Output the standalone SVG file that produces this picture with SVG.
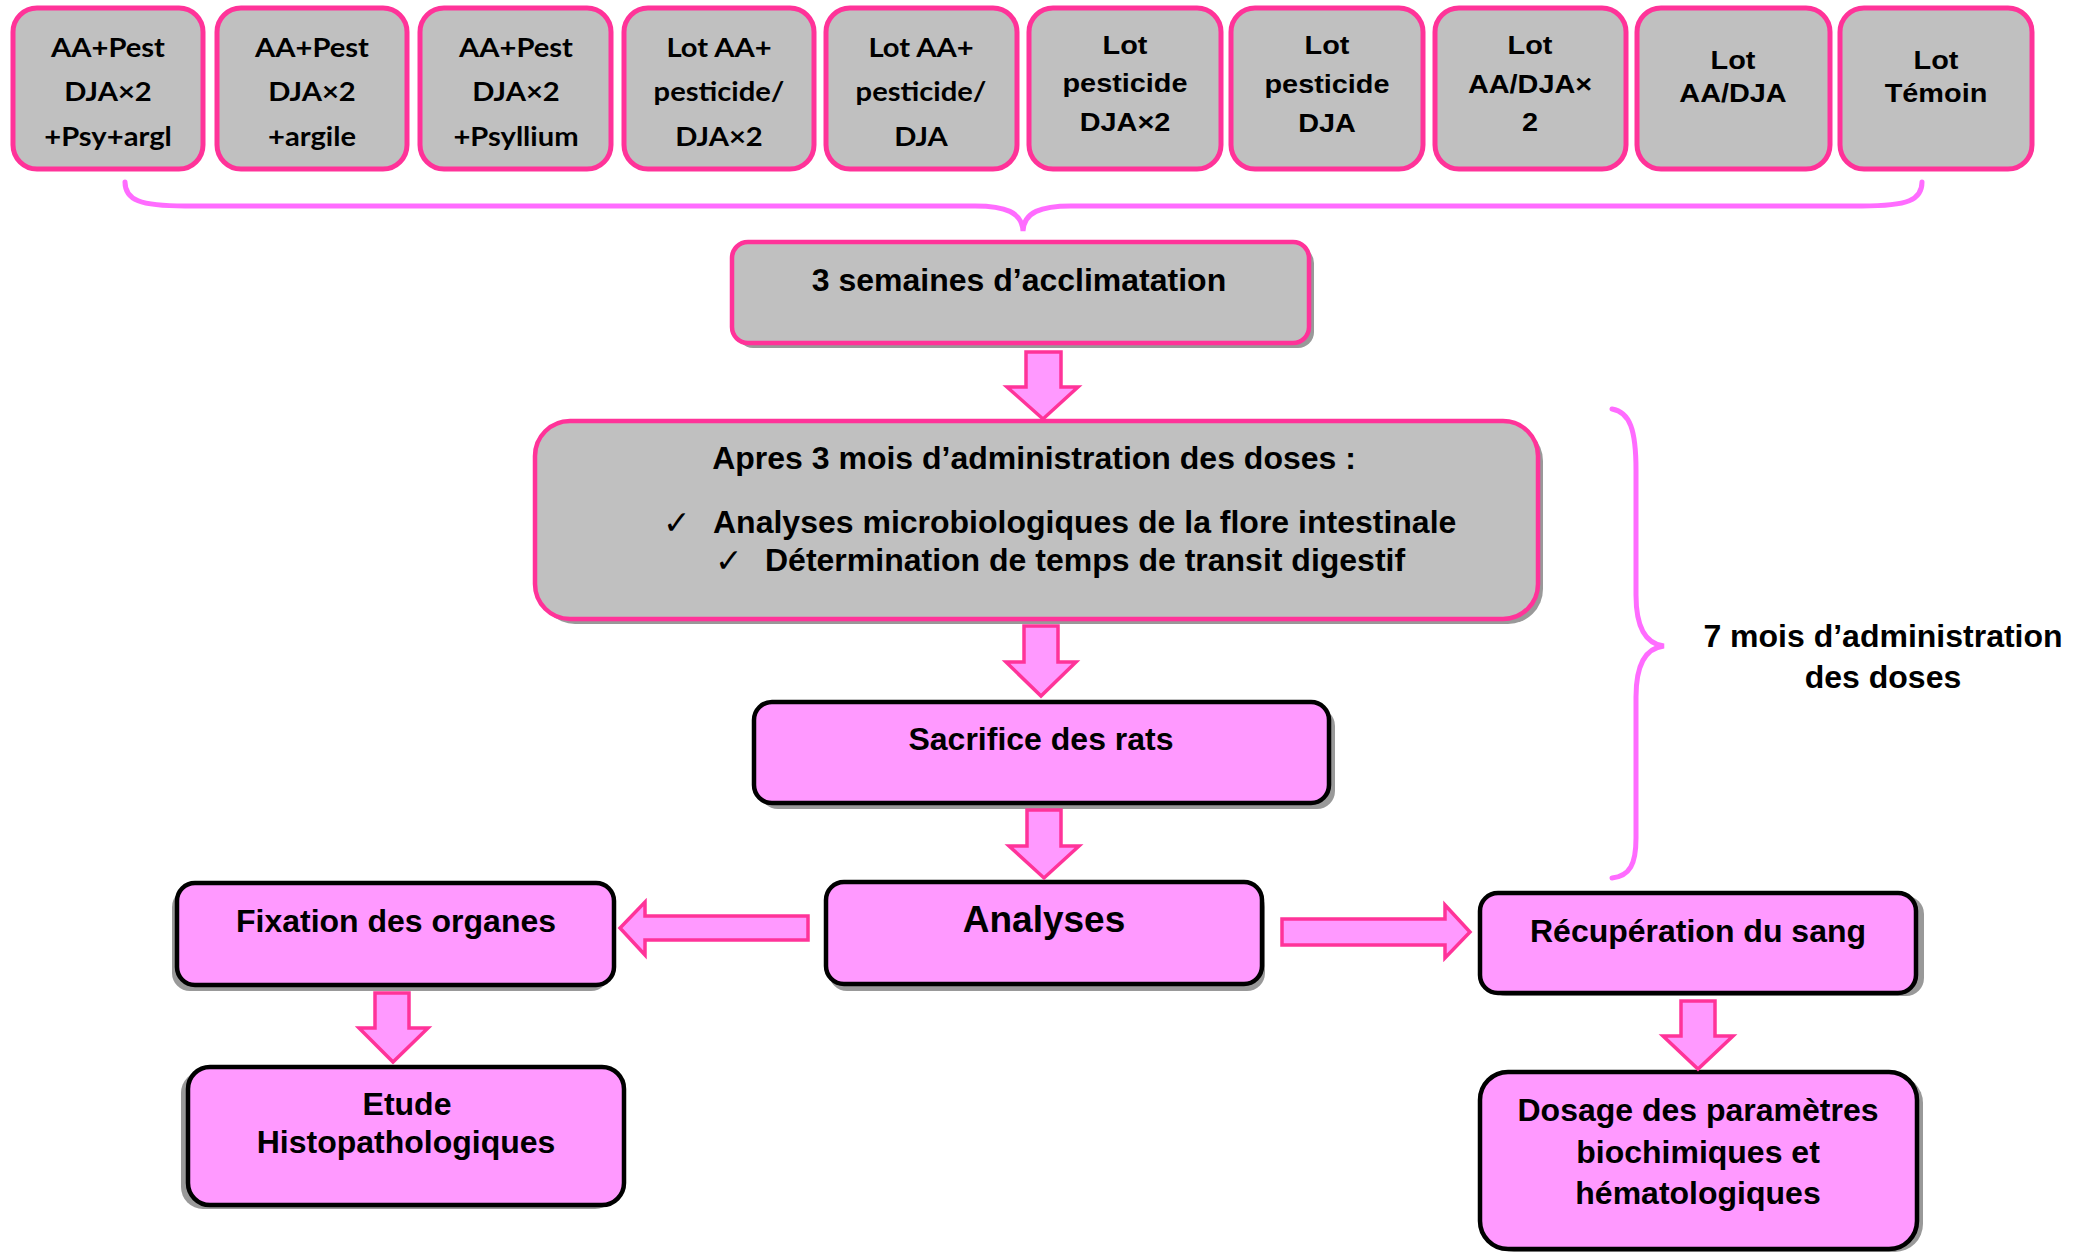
<svg xmlns="http://www.w3.org/2000/svg" width="2085" height="1254" viewBox="0 0 2085 1254">
<style>
.bg{fill:#ffffff}
.lot{fill:#C0C0C0;stroke:#FF3399;stroke-width:5}
.grey{fill:#C0C0C0;stroke:#FF3399;stroke-width:4.5}
.pink{fill:#FF99FF;stroke:#000000;stroke-width:4.5}
.shadow{fill:#999999}
.arrow{fill:#FF99FF;stroke:#FF3399;stroke-width:3.5;stroke-linejoin:miter}
.brace{fill:none;stroke:#FF6CFF;stroke-width:5;stroke-linecap:round}
.cal{font-family:Lato,"Open Sans","Liberation Sans",sans-serif;font-weight:bold;font-size:26.5px;text-anchor:middle;fill:#000}
.ari{font-family:"Liberation Sans",Arial,sans-serif;font-weight:bold;font-size:26px;text-anchor:middle;fill:#000}
.lbl{font-family:"Liberation Sans",Arial,sans-serif;font-weight:bold;font-size:32px;text-anchor:middle;fill:#000}
.lft{font-family:"Liberation Sans",Arial,sans-serif;font-weight:bold;font-size:32px;fill:#000}
.chk{font-family:"DejaVu Sans",sans-serif;font-size:33px;fill:#000}
</style>
<rect class="bg" x="0" y="0" width="2085" height="1254"/>

<g id="lot1">
<rect class="lot" x="13" y="8" width="190" height="161" rx="24"/>
<g transform="matrix(1.1 0 0 1 108 0)"><text class="cal" x="0" y="57">AA+Pest</text><text class="cal" x="0" y="101">DJA×2</text><text class="cal" x="0" y="146">+Psy+argl</text></g>
</g>
<g id="lot2">
<rect class="lot" x="217" y="8" width="190" height="161" rx="24"/>
<g transform="matrix(1.1 0 0 1 312 0)"><text class="cal" x="0" y="57">AA+Pest</text><text class="cal" x="0" y="101">DJA×2</text><text class="cal" x="0" y="146">+argile</text></g>
</g>
<g id="lot3">
<rect class="lot" x="420" y="8" width="191" height="161" rx="24"/>
<g transform="matrix(1.1 0 0 1 516 0)"><text class="cal" x="0" y="57">AA+Pest</text><text class="cal" x="0" y="101">DJA×2</text><text class="cal" x="0" y="146">+Psyllium</text></g>
</g>
<g id="lot4">
<rect class="lot" x="624" y="8" width="190" height="161" rx="24"/>
<g transform="matrix(1.1 0 0 1 719 0)"><text class="cal" x="0" y="57">Lot AA+</text><text class="cal" x="0" y="101">pesticide/</text><text class="cal" x="0" y="146">DJA×2</text></g>
</g>
<g id="lot5">
<rect class="lot" x="826" y="8" width="191" height="161" rx="24"/>
<g transform="matrix(1.1 0 0 1 921 0)"><text class="cal" x="0" y="57">Lot AA+</text><text class="cal" x="0" y="101">pesticide/</text><text class="cal" x="0" y="146">DJA</text></g>
</g>
<g id="lot6">
<rect class="lot" x="1029" y="8" width="192" height="161" rx="24"/>
<g transform="matrix(1.11 0 0 1 1125 0)"><text class="ari" x="0" y="54">Lot</text><text class="ari" x="0" y="92">pesticide</text><text class="ari" x="0" y="131">DJA×2</text></g>
</g>
<g id="lot7">
<rect class="lot" x="1231" y="8" width="192" height="161" rx="24"/>
<g transform="matrix(1.11 0 0 1 1327 0)"><text class="ari" x="0" y="54">Lot</text><text class="ari" x="0" y="93">pesticide</text><text class="ari" x="0" y="132">DJA</text></g>
</g>
<g id="lot8">
<rect class="lot" x="1435" y="8" width="191" height="161" rx="24"/>
<g transform="matrix(1.11 0 0 1 1530 0)"><text class="ari" x="0" y="54">Lot</text><text class="ari" x="0" y="93">AA/DJA×</text><text class="ari" x="0" y="131">2</text></g>
</g>
<g id="lot9">
<rect class="lot" x="1637" y="8" width="193" height="161" rx="24"/>
<g transform="matrix(1.11 0 0 1 1733 0)"><text class="ari" x="0" y="69">Lot</text><text class="ari" x="0" y="102">AA/DJA</text></g>
</g>
<g id="lot10">
<rect class="lot" x="1840" y="8" width="192" height="161" rx="24"/>
<g transform="matrix(1.11 0 0 1 1936 0)"><text class="ari" x="0" y="69">Lot</text><text class="ari" x="0" y="102">Témoin</text></g>
</g>

<g id="acclimatation">
<rect class="shadow" x="737" y="247" width="577" height="101" rx="16"/>
<rect class="grey" x="732" y="242" width="577" height="101" rx="16"/>
<text class="lbl" x="1019" y="291">3 semaines d’acclimatation</text>
</g>

<g id="apres">
<rect class="shadow" x="540" y="426" width="1003" height="198" rx="35"/>
<rect class="grey" x="535" y="421" width="1003" height="198" rx="35"/>
<text class="lbl" x="1034" y="469">Apres 3 mois d’administration des doses :</text>
<text class="chk" x="663" y="534">✓</text>
<text class="lft" x="713" y="533">Analyses microbiologiques de la flore intestinale</text>
<text class="chk" x="715" y="572">✓</text>
<text class="lft" x="765" y="571">Détermination de temps de transit digestif</text>
</g>

<g id="sacrifice">
<rect class="shadow" x="760" y="708" width="575" height="101" rx="18"/>
<rect class="pink" x="754" y="702" width="575" height="101" rx="18"/>
<text class="lbl" x="1041" y="750">Sacrifice des rats</text>
</g>

<g id="analyses">
<rect class="shadow" x="829" y="889" width="436" height="102" rx="18"/>
<rect class="pink" x="826" y="882" width="436" height="102" rx="18"/>
<text class="lbl" x="1044" y="932" style="font-size:37px">Analyses</text>
</g>

<g id="fixation">
<rect class="shadow" x="172" y="889" width="437" height="102" rx="18"/>
<rect class="pink" x="177" y="883" width="437" height="102" rx="18"/>
<text class="lbl" x="396" y="932">Fixation des organes</text>
</g>

<g id="etude">
<rect class="shadow" x="181" y="1071" width="436" height="138" rx="22"/>
<rect class="pink" x="188" y="1067" width="436" height="138" rx="22"/>
<text class="lbl" x="407" y="1115">Etude</text>
<text class="lbl" x="406" y="1153">Histopathologiques</text>
</g>

<g id="recuperation">
<rect class="shadow" x="1488" y="896" width="436" height="100" rx="18"/>
<rect class="pink" x="1480" y="893" width="436" height="100" rx="18"/>
<text class="lbl" x="1698" y="942">Récupération du sang</text>
</g>

<g id="dosage">
<rect class="shadow" x="1486" y="1075" width="437" height="177" rx="28"/>
<rect class="pink" x="1480" y="1072" width="437" height="177" rx="28"/>
<text class="lbl" x="1698" y="1121">Dosage des paramètres</text>
<text class="lbl" x="1698" y="1163">biochimiques et</text>
<text class="lbl" x="1698" y="1204">hématologiques</text>
</g>

<g id="label-7mois">
<text class="lbl" x="1883" y="647">7 mois d’administration</text>
<text class="lbl" x="1883" y="688">des doses</text>
</g>

<g id="connectors">
<path class="brace" d="M125 182 C125 200 140 206 185 206 L975 206 C1005 206 1022 212 1023 231 C1024 212 1041 206 1071 206 L1862 206 C1908 206 1922 200 1922 182"/>
<path class="brace" d="M1612 409 C1630 412 1636 430 1636 470 L1636 595 C1636 628 1646 644 1664 646 C1646 648 1636 664 1636 697 L1636 838 C1636 864 1630 876 1612 878"/>
<polygon class="arrow" points="1026,352 1061,352 1061,387 1078,387 1043,419 1007,387 1026,387"/>
<polygon class="arrow" points="1024,626 1058,626 1058,662 1076,662 1041,696 1006,662 1024,662"/>
<polygon class="arrow" points="1027,810 1061,810 1061,846 1079,846 1044,878 1009,846 1027,846"/>
<polygon class="arrow" points="808,916 808,940 645,940 645,955 620,928 645,902 645,916"/>
<polygon class="arrow" points="1282,919 1445,919 1445,905 1470,932 1445,958 1445,945 1282,945"/>
<polygon class="arrow" points="375,993 409,993 409,1028 428,1028 393,1062 359,1028 375,1028"/>
<polygon class="arrow" points="1681,1001 1715,1001 1715,1036 1733,1036 1698,1069 1663,1036 1681,1036"/>
</g>
</svg>
